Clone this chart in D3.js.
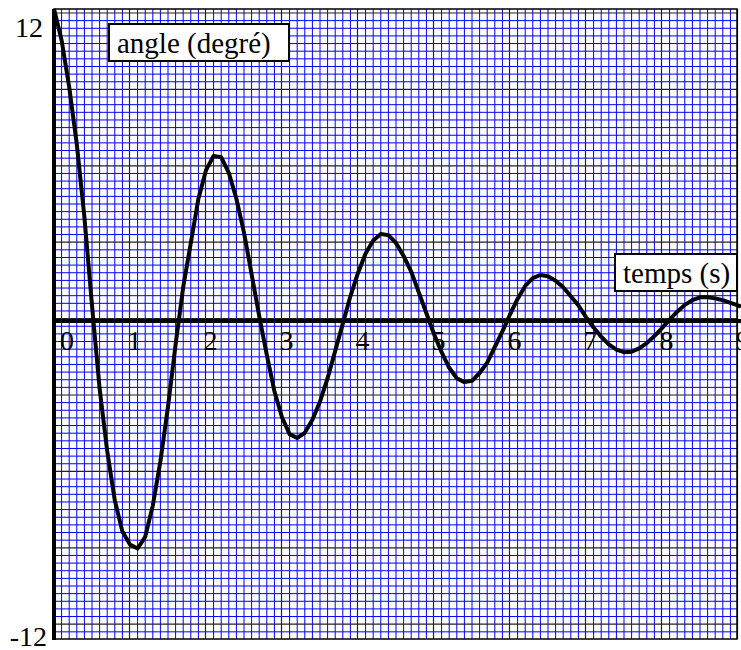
<!DOCTYPE html>
<html>
<head>
<meta charset="utf-8">
<script src="https://cdn.jsdelivr.net/npm/d3@7"></script>
<style>
    body { margin: 0; background: #fff; }
    text { font-family: "Liberation Serif", "Times New Roman", serif; fill: #000; }
</style>
</head>
<body>
<script>
// temps (s) et angle (degré)
const temps = [0, 0.1, 0.2, 0.3, 0.4, 0.5, 0.6, 0.7, 0.8, 0.9,
    1.0, 1.1, 1.2, 1.3, 1.4, 1.5, 1.6, 1.7, 1.8, 1.9,
    2.0, 2.1, 2.2, 2.3, 2.4, 2.5, 2.6, 2.7, 2.8, 2.9,
    3.0, 3.1, 3.2, 3.3, 3.4, 3.5, 3.6, 3.7, 3.8, 3.9,
    4.0, 4.1, 4.2, 4.3, 4.4, 4.5, 4.6, 4.7, 4.8, 4.9,
    5.0, 5.1, 5.2, 5.3, 5.4, 5.5, 5.6, 5.7, 5.8, 5.9,
    6.0, 6.1, 6.2, 6.3, 6.4, 6.5, 6.6, 6.7, 6.8, 6.9,
    7.0, 7.1, 7.2, 7.3, 7.4, 7.5, 7.6, 7.7, 7.8, 7.9,
    8.0, 8.1, 8.2, 8.3, 8.4, 8.5, 8.6, 8.7, 8.8, 8.9,
    9.0, 9.04];
const angle = [12.0, 10.8, 9.0, 6.8, 4.0, 0.6, -2.6, -5.0, -6.9, -8.1,
    -8.6, -8.75, -8.3, -7.1, -5.4, -3.3, -0.9, 1.3, 3.0, 4.7,
    5.8, 6.35, 6.3, 5.7, 4.7, 3.4, 1.8, 0.2, -1.3, -2.7,
    -3.7, -4.35, -4.5, -4.3, -3.8, -3.1, -2.2, -1.15, -0.1, 0.95,
    1.85, 2.6, 3.1, 3.35, 3.3, 3.0, 2.5, 1.9, 1.1, 0.3,
    -0.5, -1.2, -1.8, -2.2, -2.35, -2.3, -2.0, -1.6, -1.0, -0.4,
    0.25, 0.85, 1.35, 1.65, 1.77, 1.72, 1.55, 1.3, 0.95, 0.6,
    0.15, -0.25, -0.6, -0.9, -1.1, -1.2, -1.18, -1.05, -0.85, -0.58,
    -0.27, 0.05, 0.36, 0.62, 0.8, 0.91, 0.91, 0.87, 0.8, 0.7,
    0.6, 0.55];

const xTicks = [0, 1, 2, 3, 4, 5, 6, 7, 8, 9];
const yLabels = [12, -12];
const xTitle = "temps (s)";
const yTitle = "angle (degré)";

const data = temps.map((t, i) => ({ x: t, y: angle[i] }));

const W = 741, H = 650;
const margin = { left: 54, right: 738, top: 9, bottom: 639 };

const svg = d3.select("body")
    .append("svg")
    .attr("width", W)
    .attr("height", H);

const x = d3.scaleLinear().domain([0, 9]).range([margin.left, margin.right]);
const y = d3.scaleLinear().domain([-12, 12]).range([633, margin.top]);

// papier millimétré
const grid = svg.append("g");
const vMinor = d3.range(0, 91).map(i => i / 10);
grid.selectAll(".vmin")
    .data(vMinor.filter(v => Math.round(v * 10) % 10 !== 0))
    .enter().append("line")
    .attr("x1", d => x(d)).attr("x2", d => x(d))
    .attr("y1", margin.top).attr("y2", margin.bottom)
    .attr("stroke", "#0000ff").attr("stroke-width", 1);

const pitch = 7.64;
const hLines = d3.range(0, 82).map(k => ({ k, py: 13 + k * pitch }));
grid.selectAll(".hmin")
    .data(hLines.filter(d => d.k % 10 !== 0))
    .enter().append("line")
    .attr("x1", margin.left).attr("x2", margin.right - 1)
    .attr("y1", d => d.py).attr("y2", d => d.py)
    .attr("stroke", "#0000ff").attr("stroke-width", 1);

grid.selectAll(".hmaj")
    .data(hLines.filter(d => d.k % 10 === 0))
    .enter().append("line")
    .attr("x1", margin.left).attr("x2", margin.right - 1)
    .attr("y1", d => d.py).attr("y2", d => d.py)
    .attr("stroke", "#222").attr("stroke-width", 1.2);

grid.selectAll(".vmaj")
    .data(xTicks.slice(1))
    .enter().append("line")
    .attr("x1", d => x(d) - 0.5).attr("x2", d => x(d) - 0.5)
    .attr("y1", margin.top).attr("y2", margin.bottom)
    .attr("stroke", "#222").attr("stroke-width", 1.2);

// cadre
svg.append("rect")
    .attr("x", margin.left).attr("y", margin.top)
    .attr("width", margin.right - 1 - margin.left).attr("height", margin.bottom - margin.top)
    .attr("fill", "none").attr("stroke", "#000").attr("stroke-width", 1.5);

// axes épais
svg.append("line")
    .attr("x1", margin.left).attr("x2", W)
    .attr("y1", y(0)).attr("y2", y(0))
    .attr("stroke", "#000").attr("stroke-width", 4);
svg.append("line")
    .attr("x1", margin.left).attr("x2", margin.left)
    .attr("y1", margin.top).attr("y2", margin.bottom + 1)
    .attr("stroke", "#000").attr("stroke-width", 4);

// courbe
const line = d3.line()
    .x(d => x(d.x)).y(d => y(d.y));
svg.append("path")
    .datum(data)
    .attr("fill", "none")
    .attr("stroke", "#000")
    .attr("stroke-width", 4)
    .attr("stroke-linejoin", "round")
    .attr("d", line);

// graduations
svg.selectAll(".xlab")
    .data(xTicks)
    .enter().append("text")
    .attr("x", d => x(d) + (d === 0 ? 13 : 4.5))
    .attr("y", y(0) + 29)
    .attr("text-anchor", "middle")
    .attr("font-size", 28)
    .text(d => d);

svg.selectAll(".ylab")
    .data(yLabels)
    .enter().append("text")
    .attr("x", d => d > 0 ? 43 : 47)
    .attr("y", d => d > 0 ? y(d) + 28 : y(d) + 13)
    .attr("text-anchor", "end")
    .attr("font-size", 28)
    .text(d => d);

// étiquettes encadrées
function boxLabel(bx, by, bw, bh, txt) {
    svg.append("rect")
        .attr("x", bx).attr("y", by)
        .attr("width", bw).attr("height", bh)
        .attr("fill", "#fff").attr("stroke", "#000").attr("stroke-width", 2);
    svg.append("text")
        .attr("x", bx + 8).attr("y", by + 29)
        .attr("font-size", 29)
        .text(txt);
}
boxLabel(109, 24, 180, 37, yTitle);
boxLabel(615, 254, 122, 37, xTitle);
</script>
</body>
</html>
